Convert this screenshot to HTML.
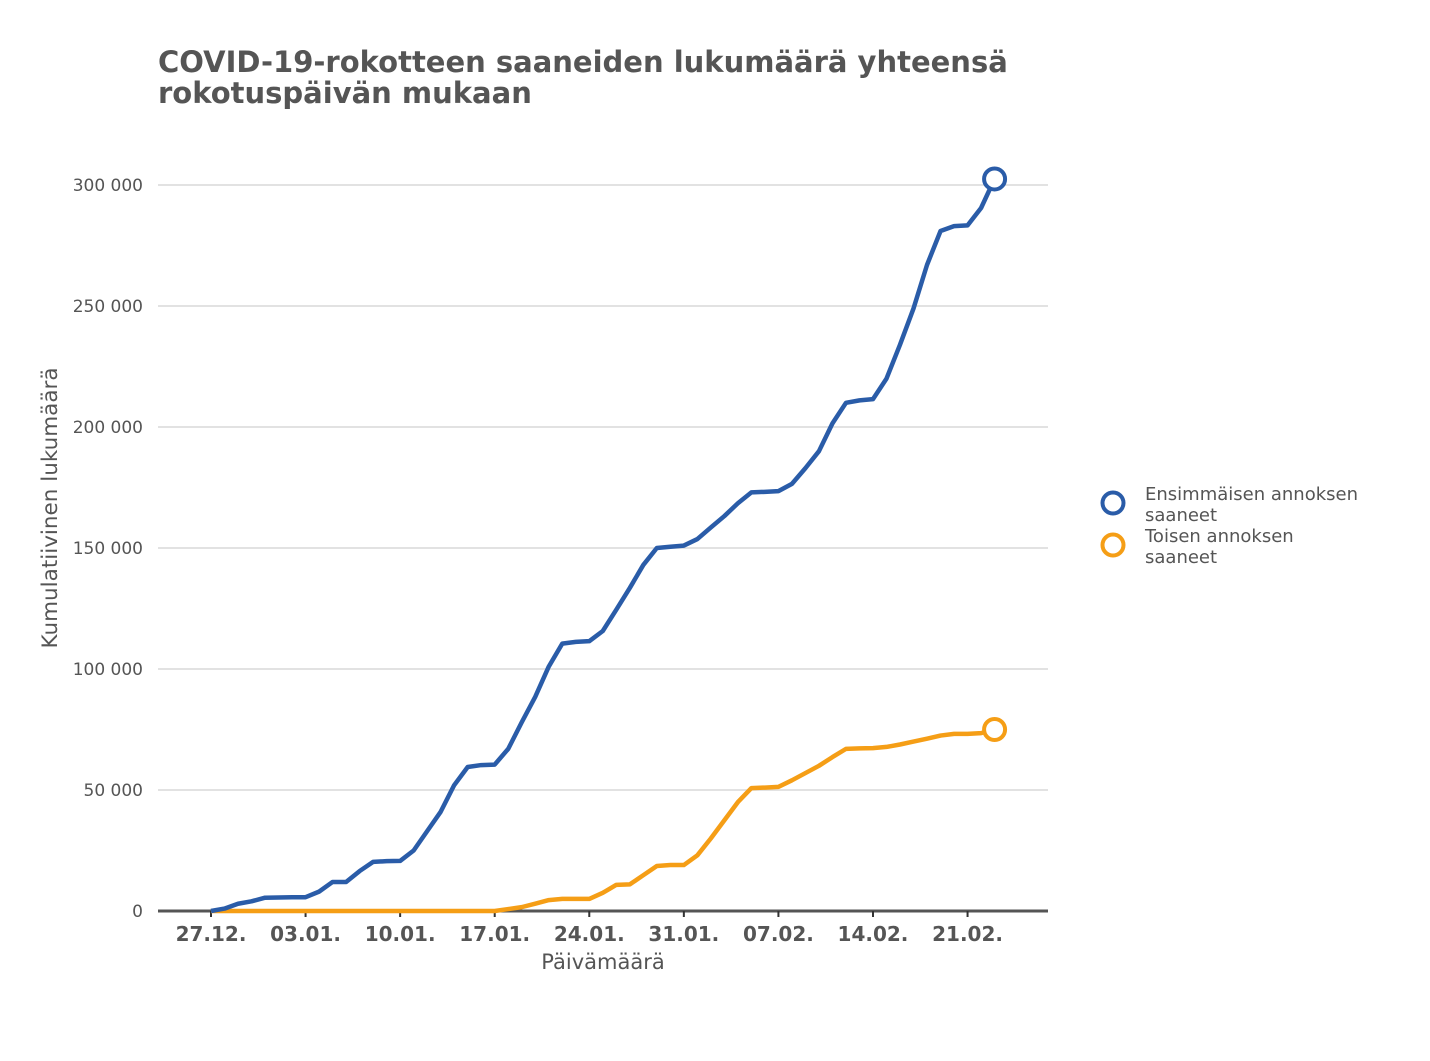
<!DOCTYPE html>
<html><head><meta charset="utf-8"><style>
body{margin:0;background:#fff;font-family:"DejaVu Sans","Liberation Sans",sans-serif;}
svg text{font-family:"DejaVu Sans","Liberation Sans",sans-serif;}
</style></head><body>
<svg id="chart" width="1430" height="1057" viewBox="0 0 1430 1057">
<text x="158" y="72" font-size="29" font-weight="bold" fill="#555">COVID-19-rokotteen saaneiden lukumäärä yhteensä</text>
<text x="158" y="103" font-size="29" font-weight="bold" fill="#555">rokotuspäivän mukaan</text>
<g id="grid"></g><g id="yticks"></g><g id="xticks"></g><g id="lines"></g>
<text transform="translate(57,508) rotate(-90)" text-anchor="middle" font-size="21.5" fill="#555">Kumulatiivinen lukumäärä</text>
<text x="603" y="969" text-anchor="middle" font-size="21" fill="#555">Päivämäärä</text>
<g>
<circle cx="1113" cy="503" r="10.5" fill="#fff" stroke="#2a5ca8" stroke-width="4"/>
<text x="1145" y="500" font-size="18" fill="#555">Ensimmäisen annoksen</text>
<text x="1145" y="521" font-size="18" fill="#555">saaneet</text>
<circle cx="1113" cy="545" r="10.5" fill="#fff" stroke="#f59e16" stroke-width="4"/>
<text x="1145" y="542" font-size="18" fill="#555">Toisen annoksen</text>
<text x="1145" y="563" font-size="18" fill="#555">saaneet</text>
</g>
</svg>
<script>
const firstDose=[0,1000,3000,4000,5500,5600,5700,5700,8000,12000,12000,16500,20300,20600,20700,25000,33000,41000,52000,59500,60300,60500,67000,78000,88500,101000,110500,111200,111500,115700,124500,133500,143000,150000,150500,151000,153700,158500,163200,168500,173000,173200,173500,176500,183000,190000,201500,210000,211000,211500,220000,234000,249000,267000,281000,283000,283300,290500,302500];
const secondDose=[0,0,0,0,0,0,0,0,0,0,0,0,0,0,0,0,0,0,0,0,0,0,800,1600,3000,4500,5000,5000,5000,7500,10800,11000,14800,18600,19000,19000,23000,30000,37500,45000,50800,51000,51300,54000,57000,60000,63600,67000,67200,67300,67800,68800,70000,71200,72500,73200,73200,73500,75000];
const xTickLabels=["27.12.","03.01.","10.01.","17.01.","24.01.","31.01.","07.02.","14.02.","21.02."];
const xTickDays=[0,7,14,21,28,35,42,49,56];
const yTickValues=[0,50000,100000,150000,200000,250000,300000];
const yTickLabels=["0","50 000","100 000","150 000","200 000","250 000","300 000"];
const NS="http://www.w3.org/2000/svg";
const X0=211,DX=13.51,Y0=911,YS=242/100000,PL=158,PR=1048;
const xs=d=>X0+d*DX, ys=v=>Y0-v*YS;
function mk(t,a,p){const e=document.createElementNS(NS,t);for(const k in a)e.setAttribute(k,a[k]);p.appendChild(e);return e;}
const grid=document.getElementById('grid'),yt=document.getElementById('yticks'),xt=document.getElementById('xticks'),ln=document.getElementById('lines');
yTickValues.forEach((v,i)=>{
 if(v>0){const g=mk('line',{x1:PL,x2:PR,y1:ys(v),y2:ys(v),stroke:'#d9d9d9','stroke-width':1.5},grid);
 
 }
 const t=mk('text',{x:143,y:ys(v)+6,'text-anchor':'end','font-size':17,fill:'#555'},yt);t.textContent=yTickLabels[i];
 
 
});
const base=mk('line',{x1:PL,x2:PR,y1:Y0,y2:Y0,stroke:'#555','stroke-width':3},grid);


xTickDays.forEach((d,i)=>{
 const tk=mk('line',{x1:xs(d),x2:xs(d),y1:Y0,y2:Y0+6,stroke:'#333','stroke-width':2},xt);
 
 
 const t=mk('text',{x:xs(d),y:941,'text-anchor':'middle','font-size':20,'font-weight':'bold',fill:'#555'},xt);t.textContent=xTickLabels[i];
 
 
});
function series(data,color,name){
 const p=mk('polyline',{points:data.map((v,i)=>xs(i)+','+ys(v)).join(' '),fill:'none',stroke:color,'stroke-width':4.5,'stroke-linejoin':'round'},ln);
 
 
 const n=data.length-1;
 const c=mk('circle',{cx:xs(n),cy:ys(data[n]),r:10.5,fill:'#fff',stroke:color,'stroke-width':4},ln);
 
 
}
series(secondDose,'#f59e16','second-dose');
series(firstDose,'#2a5ca8','first-dose');
</script>
</body></html>
